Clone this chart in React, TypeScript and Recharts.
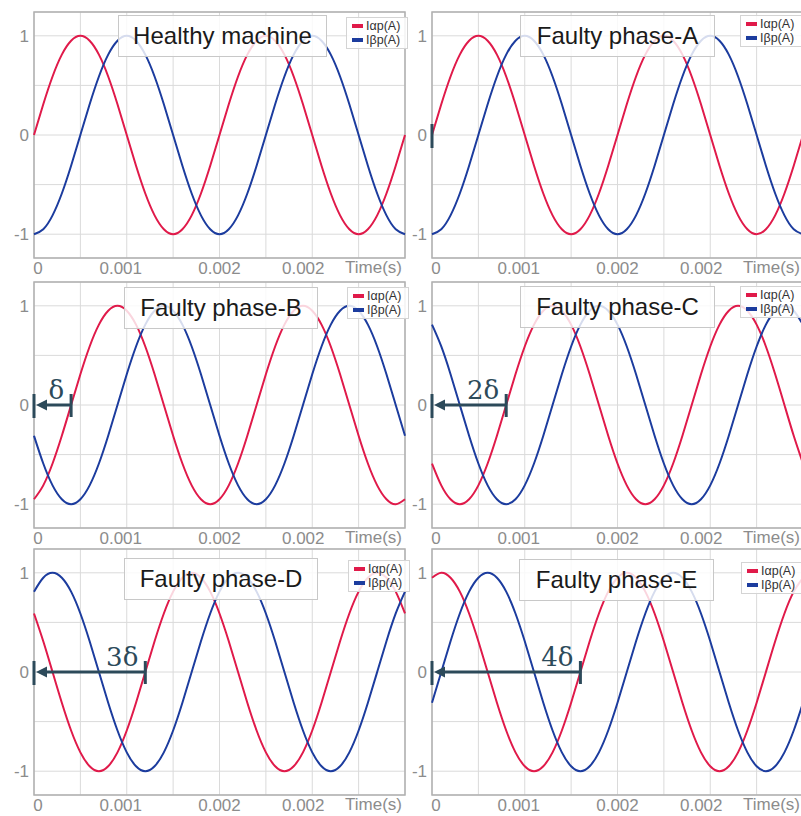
import React from 'react';
import {
  LineChart,
  Line,
  XAxis,
  YAxis,
  CartesianGrid,
  Legend,
  ReferenceLine,
  ReferenceArea,
} from 'recharts';

// ---- data ----
const TIME_S = [
  0, 0.00008, 0.00016, 0.00024, 0.00032, 0.0004, 0.00048, 0.00056, 0.00064, 0.00072,
  0.0008, 0.00088, 0.00096, 0.00104, 0.00112, 0.0012, 0.00128, 0.00136, 0.00144, 0.00152,
  0.0016, 0.00168, 0.00176, 0.00184, 0.00192, 0.002, 0.00208, 0.00216, 0.00224, 0.00232,
  0.0024, 0.00248, 0.00256, 0.00264, 0.00272, 0.0028, 0.00288, 0.00296, 0.00304, 0.00312,
  0.0032,
];

// Healthy machine (and faulty phase-A)
const ALPHA_HEALTHY = [
  0, 0.31, 0.59, 0.81, 0.95, 1, 0.95, 0.81, 0.59, 0.31, 0, -0.31, -0.59, -0.81, -0.95, -1, -0.95, -0.81, -0.59, -0.31,
  0, 0.31, 0.59, 0.81, 0.95, 1, 0.95, 0.81, 0.59, 0.31, 0, -0.31, -0.59, -0.81, -0.95, -1, -0.95, -0.81, -0.59, -0.31,
  0,
];
const BETA_HEALTHY = [
  -1, -0.95, -0.81, -0.59, -0.31, 0, 0.31, 0.59, 0.81, 0.95, 1, 0.95, 0.81, 0.59, 0.31, 0, -0.31, -0.59, -0.81, -0.95,
  -1, -0.95, -0.81, -0.59, -0.31, 0, 0.31, 0.59, 0.81, 0.95, 1, 0.95, 0.81, 0.59, 0.31, 0, -0.31, -0.59, -0.81, -0.95,
  -1,
];
const ALPHA_A = [...ALPHA_HEALTHY];
const BETA_A = [...BETA_HEALTHY];
const ALPHA_B = [
  -0.95, -0.81, -0.59, -0.31, 0, 0.31, 0.59, 0.81, 0.95, 1, 0.95, 0.81, 0.59, 0.31, 0, -0.31, -0.59, -0.81, -0.95, -1,
  -0.95, -0.81, -0.59, -0.31, 0, 0.31, 0.59, 0.81, 0.95, 1, 0.95, 0.81, 0.59, 0.31, 0, -0.31, -0.59, -0.81, -0.95, -1,
  -0.95,
];
const BETA_B = [
  -0.31, -0.59, -0.81, -0.95, -1, -0.95, -0.81, -0.59, -0.31, 0, 0.31, 0.59, 0.81, 0.95, 1, 0.95, 0.81, 0.59, 0.31, 0,
  -0.31, -0.59, -0.81, -0.95, -1, -0.95, -0.81, -0.59, -0.31, 0, 0.31, 0.59, 0.81, 0.95, 1, 0.95, 0.81, 0.59, 0.31, 0,
  -0.31,
];
const ALPHA_C = [
  -0.59, -0.81, -0.95, -1, -0.95, -0.81, -0.59, -0.31, 0, 0.31, 0.59, 0.81, 0.95, 1, 0.95, 0.81, 0.59, 0.31, 0, -0.31,
  -0.59, -0.81, -0.95, -1, -0.95, -0.81, -0.59, -0.31, 0, 0.31, 0.59, 0.81, 0.95, 1, 0.95, 0.81, 0.59, 0.31, 0, -0.31,
  -0.59,
];
const BETA_C = [
  0.81, 0.59, 0.31, 0, -0.31, -0.59, -0.81, -0.95, -1, -0.95, -0.81, -0.59, -0.31, 0, 0.31, 0.59, 0.81, 0.95, 1, 0.95,
  0.81, 0.59, 0.31, 0, -0.31, -0.59, -0.81, -0.95, -1, -0.95, -0.81, -0.59, -0.31, 0, 0.31, 0.59, 0.81, 0.95, 1, 0.95,
  0.81,
];
const ALPHA_D = [
  0.59, 0.31, 0, -0.31, -0.59, -0.81, -0.95, -1, -0.95, -0.81, -0.59, -0.31, 0, 0.31, 0.59, 0.81, 0.95, 1, 0.95, 0.81,
  0.59, 0.31, 0, -0.31, -0.59, -0.81, -0.95, -1, -0.95, -0.81, -0.59, -0.31, 0, 0.31, 0.59, 0.81, 0.95, 1, 0.95, 0.81,
  0.59,
];
const BETA_D = [
  0.81, 0.95, 1, 0.95, 0.81, 0.59, 0.31, 0, -0.31, -0.59, -0.81, -0.95, -1, -0.95, -0.81, -0.59, -0.31, 0, 0.31, 0.59,
  0.81, 0.95, 1, 0.95, 0.81, 0.59, 0.31, 0, -0.31, -0.59, -0.81, -0.95, -1, -0.95, -0.81, -0.59, -0.31, 0, 0.31, 0.59,
  0.81,
];
const ALPHA_E = [
  0.95, 1, 0.95, 0.81, 0.59, 0.31, 0, -0.31, -0.59, -0.81, -0.95, -1, -0.95, -0.81, -0.59, -0.31, 0, 0.31, 0.59, 0.81,
  0.95, 1, 0.95, 0.81, 0.59, 0.31, 0, -0.31, -0.59, -0.81, -0.95, -1, -0.95, -0.81, -0.59, -0.31, 0, 0.31, 0.59, 0.81,
  0.95,
];
const BETA_E = [
  -0.31, 0, 0.31, 0.59, 0.81, 0.95, 1, 0.95, 0.81, 0.59, 0.31, 0, -0.31, -0.59, -0.81, -0.95, -1, -0.95, -0.81, -0.59,
  -0.31, 0, 0.31, 0.59, 0.81, 0.95, 1, 0.95, 0.81, 0.59, 0.31, 0, -0.31, -0.59, -0.81, -0.95, -1, -0.95, -0.81, -0.59,
  -0.31,
];

const PANEL_TITLES = [
  'Healthy machine',
  'Faulty phase-A',
  'Faulty phase-B',
  'Faulty phase-C',
  'Faulty phase-D',
  'Faulty phase-E',
];
const PANEL_ALPHA = [ALPHA_HEALTHY, ALPHA_A, ALPHA_B, ALPHA_C, ALPHA_D, ALPHA_E];
const PANEL_BETA = [BETA_HEALTHY, BETA_A, BETA_B, BETA_C, BETA_D, BETA_E];
// phase shift marker end (s) and its label
const SHIFT_END = [null, 0, 0.00032, 0.00064, 0.00096, 0.00128];
const SHIFT_LABEL = ['', '', 'δ', '2δ', '3δ', '4δ'];

const X_GRID_TICKS = [0, 0.0004, 0.0008, 0.0012, 0.0016, 0.002, 0.0024, 0.0028, 0.0032];
const X_LABEL_TICKS = [0, 0.0008, 0.0016, 0.0024];
const X_TICK_LABELS = ['0', '0.001', '0.002', '0.002'];
const Y_TICKS = [-1, -0.5, 0, 0.5, 1];
const SERIES_NAMES = ['Iαp(A)', 'Iβp(A)'];

// ---- style ----
const RED = '#e01a4a';
const BLUE = '#1c3c9e';
const ANNOT = '#2c4a5a';
const TICK_GRAY = '#8c8c8c';
const FONT = '"Liberation Sans", Arial, sans-serif';
const X_LABEL_DX = [4, -6, 0, -9];

const CHART_W = 410;
const CHART_H = 290;
const COL_LEFT = [0, 398];
const ROW_TOP = [0, 270, 537];
const TITLE_BOX = [
  { left: 118, top: 15, width: 209 },
  { left: 122, top: 15, width: 195 },
  { left: 124, top: 17, width: 194 },
  { left: 122, top: 16, width: 195 },
  { left: 124, top: 21, width: 194 },
  { left: 121, top: 22, width: 195 },
];
const LEGEND_POS = [
  { left: 346, top: 17 },
  { left: 342, top: 15 },
  { left: 347, top: 17 },
  { left: 342, top: 16 },
  { left: 348, top: 23 },
  { left: 343, top: 25 },
];

const XTick = (props: any) => {
  const { x, y, payload } = props;
  const i = X_LABEL_TICKS.indexOf(payload.value);
  if (i < 0) return <g />;
  return (
    <text
      x={x + X_LABEL_DX[i]}
      y={y}
      dy="0.75em"
      textAnchor="middle"
      fill={TICK_GRAY}
      fontSize={17}
      fontFamily={FONT}
    >
      {X_TICK_LABELS[i]}
    </text>
  );
};

const makeLegend = () => (props: any) => {
  const payload = props.payload || [];
  return (
    <div
      style={{
        background: 'rgba(255,255,255,0.85)',
        border: '1px solid #d4d4d4',
        padding: '1px 2px 1px 5px',
        width: 62,
        boxSizing: 'border-box',
        fontFamily: FONT,
      }}
    >
      {payload.map((entry: any, i: number) => (
        <div
          key={i}
          style={{ display: 'flex', alignItems: 'center', height: 14, fontSize: 12.5, color: '#333', whiteSpace: 'nowrap' }}
        >
          <span style={{ display: 'inline-block', width: 11, height: 4, background: entry.color, marginRight: 3 }} />
          <span>{entry.value}</span>
        </div>
      ))}
    </div>
  );
};

const shiftShape = (label: string) => (p: any) => {
  const { x1, y1, x2 } = p;
  const hasArrow = x2 - x1 > 2;
  return (
    <g>
      <rect x={x1 - 1.5} y={y1 - 11} width={3} height={24} fill={ANNOT} />
      {hasArrow && (
        <g>
          <line x1={x1 + 10} y1={y1} x2={x2} y2={y1} stroke={ANNOT} strokeWidth={3} />
          <polygon points={`${x1 + 2},${y1} ${x1 + 13},${y1 - 5.5} ${x1 + 13},${y1 + 5.5}`} fill={ANNOT} />
          <rect x={x2 - 1.5} y={y1 - 11} width={3} height={23} fill={ANNOT} />
          <text
            x={x2 - 7}
            y={y1 - 6}
            textAnchor="end"
            fill={ANNOT}
            fontSize={26}
            fontFamily='"DejaVu Serif", "Liberation Serif", serif'
          >
            {label}
          </text>
        </g>
      )}
    </g>
  );
};

const Panel = ({ idx }: { idx: number }) => {
  const col = idx % 2;
  const row = Math.floor(idx / 2);
  const data = TIME_S.map((t, i) => ({ t, a: PANEL_ALPHA[idx][i], b: PANEL_BETA[idx][i] }));
  const shiftEnd = SHIFT_END[idx];
  const tb = TITLE_BOX[idx];
  const lp = LEGEND_POS[idx];
  return (
    <div style={{ position: 'absolute', left: COL_LEFT[col], top: ROW_TOP[row], width: CHART_W, height: CHART_H }}>
      <LineChart width={CHART_W} height={CHART_H} data={data} margin={{ top: 12, right: 5, bottom: 0, left: 0 }}>
        <CartesianGrid stroke="#dadada" strokeWidth={1} />
        <XAxis
          dataKey="t"
          type="number"
          domain={[0, 0.0032]}
          ticks={X_GRID_TICKS}
          tick={<XTick />}
          tickLine={false}
          axisLine={false}
          tickSize={0}
          tickMargin={3}
          height={32}
          interval={0}
          label={{ value: 'Time(s)', position: 'insideTopRight', offset: 3, fill: TICK_GRAY, fontSize: 17, fontFamily: FONT }}
        />
        <YAxis
          type="number"
          domain={[-1.24, 1.24]}
          ticks={Y_TICKS}
          allowDataOverflow
          width={34}
          tickLine={false}
          axisLine={false}
          tickSize={0}
          tickMargin={5}
          interval={0}
          tickFormatter={(v: number) => (v === 0.5 || v === -0.5 ? '' : String(v))}
          tick={{ fill: TICK_GRAY, fontSize: 17, fontFamily: FONT }}
        />
        <ReferenceArea x1={0} x2={0.0032} y1={-1.24} y2={1.24} fill="none" stroke="#b0b0b0" strokeWidth={1.5} />
        <Line
          type="natural"
          dataKey="a"
          name={SERIES_NAMES[0]}
          stroke={RED}
          strokeWidth={2}
          dot={false}
          isAnimationActive={false}
        />
        <Line
          type="natural"
          dataKey="b"
          name={SERIES_NAMES[1]}
          stroke={BLUE}
          strokeWidth={2}
          dot={false}
          isAnimationActive={false}
        />
        {shiftEnd !== null && (
          <ReferenceLine
            segment={[
              { x: 0, y: 0 },
              { x: shiftEnd, y: 0 },
            ]}
            ifOverflow="visible"
            shape={shiftShape(SHIFT_LABEL[idx])}
          />
        )}
        <Legend
          layout="vertical"
          align="center"
          verticalAlign="middle"
          content={makeLegend()}
          wrapperStyle={{ left: lp.left, top: lp.top, width: 62, right: 'auto', bottom: 'auto' }}
        />
      </LineChart>
      <div
        style={{
          position: 'absolute',
          left: tb.left,
          top: tb.top,
          width: tb.width,
          height: 42,
          boxSizing: 'border-box',
          background: 'rgba(255,255,255,0.82)',
          border: '1px solid #c8c8c8',
          display: 'flex',
          alignItems: 'center',
          justifyContent: 'center',
          fontFamily: FONT,
          fontSize: 24,
          color: '#1a1a1a',
          whiteSpace: 'nowrap',
        }}
      >
        {PANEL_TITLES[idx]}
      </div>
    </div>
  );
};

export default function App() {
  return (
    <div
      style={{
        position: 'fixed',
        left: 0,
        top: 0,
        width: 801,
        height: 816,
        overflow: 'hidden',
        background: '#ffffff',
      }}
    >
      {[0, 1, 2, 3, 4, 5].map((i) => (
        <Panel key={i} idx={i} />
      ))}
    </div>
  );
}
